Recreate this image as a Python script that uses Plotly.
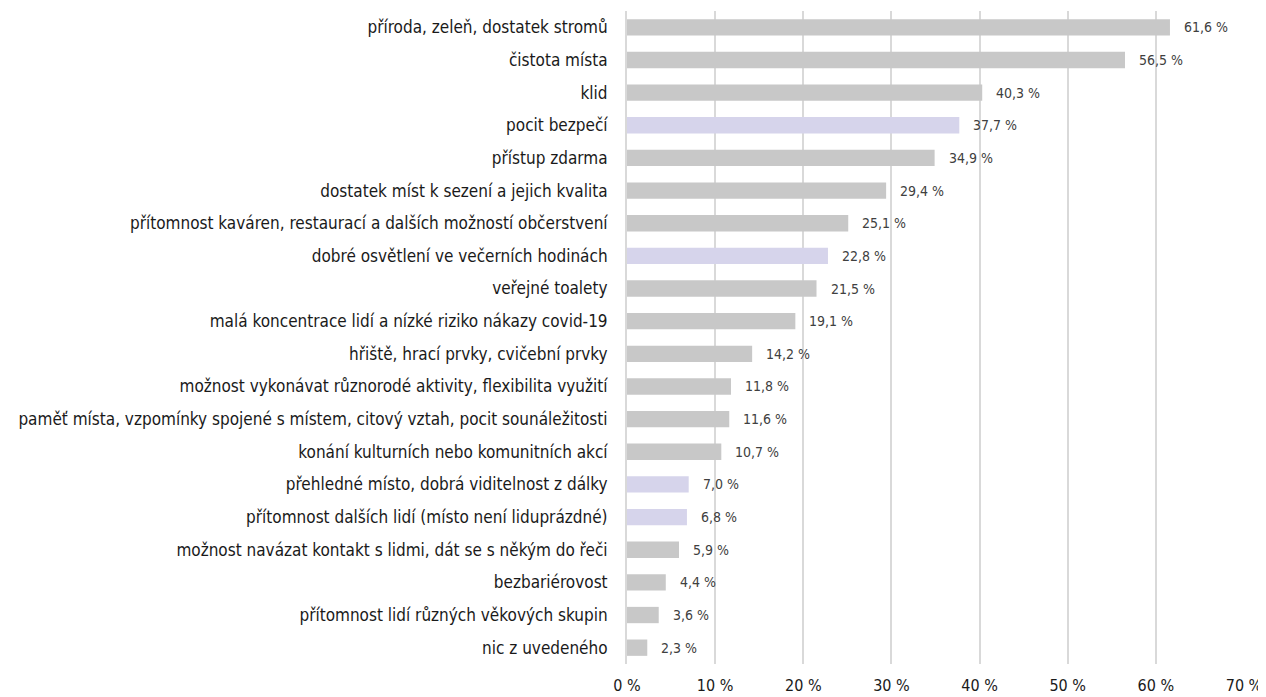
import plotly.graph_objects as go

categories = [
    "příroda, zeleň, dostatek stromů",
    "čistota místa",
    "klid",
    "pocit bezpečí",
    "přístup zdarma",
    "dostatek míst k sezení a jejich kvalita",
    "přítomnost kaváren, restaurací a dalších možností občerstvení",
    "dobré osvětlení ve večerních hodinách",
    "veřejné toalety",
    "malá koncentrace lidí a nízké riziko nákazy covid-19",
    "hřiště, hrací prvky, cvičební prvky",
    "možnost vykonávat různorodé aktivity, flexibilita využití",
    "paměť místa, vzpomínky spojené s místem, citový vztah, pocit sounáležitosti",
    "konání kulturních nebo komunitních akcí",
    "přehledné místo, dobrá viditelnost z dálky",
    "přítomnost dalších lidí (místo není liduprázdné)",
    "možnost navázat kontakt s lidmi, dát se s někým do řeči",
    "bezbariérovost",
    "přítomnost lidí různých věkových skupin",
    "nic z uvedeného",
]
values = [61.6, 56.5, 40.3, 37.7, 34.9, 29.4, 25.1, 22.8, 21.5, 19.1,
          14.2, 11.8, 11.6, 10.7, 7.0, 6.8, 5.9, 4.4, 3.6, 2.3]
highlighted = ["pocit bezpečí", "dobré osvětlení ve večerních hodinách",
               "přehledné místo, dobrá viditelnost z dálky",
               "přítomnost dalších lidí (místo není liduprázdné)"]
tick_vals = [0, 10, 20, 30, 40, 50, 60, 70]
tick_text = [f"{v} %" for v in tick_vals]

FONT = "DejaVu Sans Condensed, Liberation Sans Narrow, DejaVu Sans"
GRAY = "#c8c8c8"
LILAC = "#d6d4eb"
colors = [LILAC if c in highlighted else GRAY for c in categories]

fig = go.Figure(go.Bar(
    x=values, y=categories, orientation="h",
    marker=dict(color=colors, line=dict(width=0)),
    hoverinfo="skip",
))

for c, v in zip(categories, values):
    fig.add_annotation(
        x=v, y=c, text=f"{v:.1f}".replace(".", ",") + " %",
        showarrow=False, xanchor="left", xshift=12,
        font=dict(family=FONT, size=14, color="#404040"),
    )

# page body has an 8px default margin; size the figure to fit the window
fig.update_layout(
    width=1258, height=689,
    margin=dict(l=619, r=22, t=3, b=33, autoexpand=False),
    plot_bgcolor="white", paper_bgcolor="white",
    bargap=0.5,
    showlegend=False,
    font=dict(family=FONT, size=17, color="#1a1a1a"),
)
fig.update_xaxes(
    range=[0, 70], tickvals=tick_vals, ticktext=tick_text,
    showgrid=True, gridcolor="#d9d9d9", gridwidth=2,
    zeroline=False, showline=False, automargin=False,
    ticks="outside", ticklen=7, tickcolor="rgba(0,0,0,0)",
    tickfont=dict(family=FONT, size=16, color="#1a1a1a"),
)
fig.update_yaxes(
    autorange="reversed", showgrid=False, zeroline=False,
    showline=True, linecolor="#d9d9d9", linewidth=2, automargin=False,
    ticks="", ticklabelstandoff=14,
    tickfont=dict(family=FONT, size=17, color="#1a1a1a"),
)

fig.write_html("out.html")
